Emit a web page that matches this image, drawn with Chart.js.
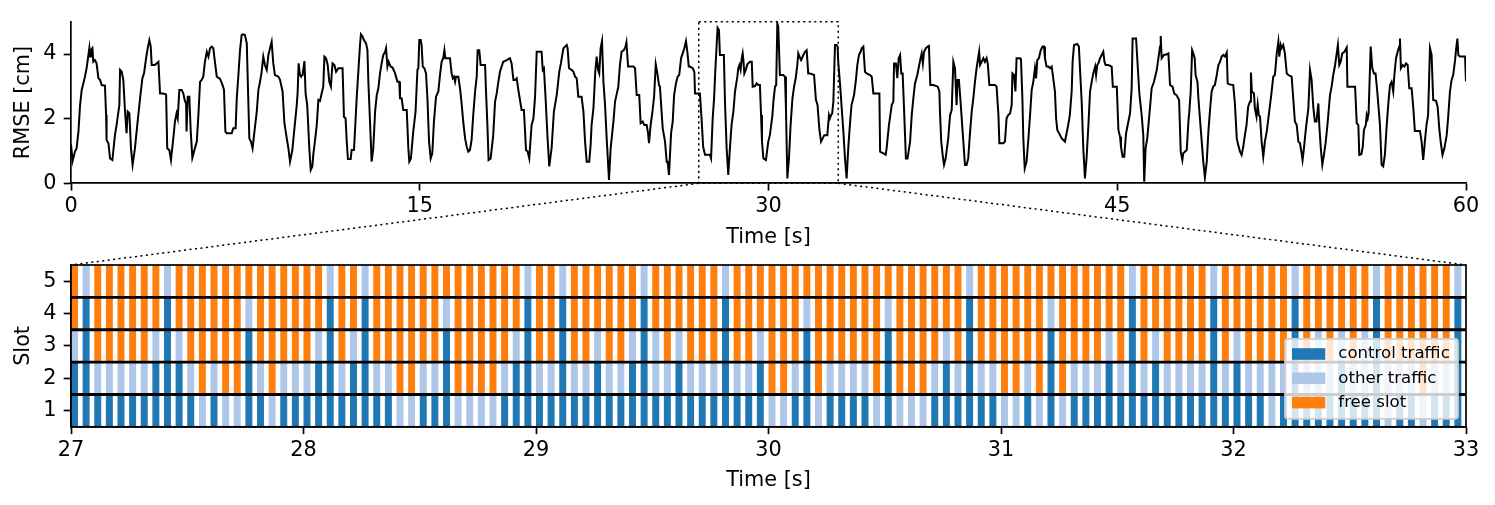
<!DOCTYPE html>
<html>
<head>
<meta charset="utf-8">
<script src="https://cdn.jsdelivr.net/npm/chart.js@4.4.0/dist/chart.umd.min.js"></script>
<style>
  html, body { margin: 0; padding: 0; background: #fff; }
  #page { position: relative; width: 1495px; height: 505px; overflow: hidden; }
  .panel { position: absolute; left: 0; width: 1495px; }
  #topPanel { top: 0; height: 252px; }
  #bottomPanel { top: 252px; height: 253px; }
  #links { position: absolute; left: 0; top: 0; pointer-events: none; }
</style>
</head>
<body>
<div id="page">
  <div class="panel" id="topPanel"><canvas id="rmseChart"></canvas></div>
  <div class="panel" id="bottomPanel"><canvas id="slotChart"></canvas></div>
  <svg id="links" width="1495" height="505"></svg>
</div>
<script>
// RMSE trace: [time in s, RMSE in cm]
const rmseTrace = [
  [0,1.2],[0.07,0.69],[0.17,0.98],[0.24,1.08],[0.32,1.60],[0.39,2.42],[0.46,2.89],[0.53,3.09],
  [0.60,3.30],[0.67,3.56],[0.75,3.97],[0.79,4.18],[0.82,3.92],[0.86,4.12],[0.92,4.18],[0.96,3.76],
  [1.03,3.81],[1.10,3.71],[1.18,3.25],[1.25,3.20],[1.32,3.04],[1.46,3.02],[1.51,2.11],[1.53,1.34],
  [1.61,1.24],[1.68,0.77],[1.78,0.72],[1.89,1.49],[1.96,1.80],[2.04,2.22],[2.08,2.42],[2.11,3.51],
  [2.18,3.45],[2.25,3.20],[2.32,2.27],[2.39,1.55],[2.44,2.22],[2.51,2.16],[2.58,1.08],[2.65,0.57],
  [2.75,1.08],[2.85,1.80],[2.97,2.63],[3.07,3.25],[3.14,3.40],[3.23,3.87],[3.30,4.18],[3.37,4.43],
  [3.43,4.23],[3.47,3.66],[3.61,3.66],[3.68,3.71],[3.76,3.76],[3.83,2.78],[3.97,2.78],[4.09,2.75],
  [4.14,1.08],[4.23,1.03],[4.30,0.72],[4.40,1.39],[4.47,1.91],[4.54,2.16],[4.59,2.01],[4.66,2.89],
  [4.76,2.89],[4.83,2.78],[4.90,2.55],[4.95,2.47],[4.97,1.60],[5.02,2.68],[5.09,2.68],[5.15,1.60],
  [5.22,0.79],[5.29,0.98],[5.41,1.29],[5.48,2.11],[5.55,3.14],[5.62,3.20],[5.69,3.30],[5.76,3.76],
  [5.84,4.07],[5.91,3.92],[5.98,4.18],[6.05,4.23],[6.12,4.18],[6.19,3.76],[6.27,3.30],[6.41,3.23],
  [6.52,3.04],[6.58,2.89],[6.64,1.60],[6.70,1.55],[6.91,1.55],[6.98,1.70],[7.08,1.70],[7.13,2.63],
  [7.20,3.35],[7.27,4.12],[7.34,4.59],[7.41,4.61],[7.48,4.59],[7.56,4.33],[7.67,1.39],[7.74,1.29],
  [7.81,1.08],[7.89,1.60],[7.99,2.22],[8.06,2.89],[8.13,3.14],[8.20,3.45],[8.27,3.92],[8.34,3.66],
  [8.42,3.51],[8.49,3.97],[8.56,4.18],[8.63,4.38],[8.70,3.71],[8.77,3.35],[8.92,3.30],[8.99,3.20],
  [9.10,2.84],[9.18,1.86],[9.28,1.39],[9.35,1.08],[9.42,0.67],[9.52,1.03],[9.61,1.70],[9.71,2.42],
  [9.75,2.84],[9.79,3.71],[9.85,3.35],[9.89,3.32],[9.96,3.35],[10.04,3.78],[10.09,2.78],[10.16,2.42],
  [10.25,1.08],[10.31,0.41],[10.38,0.52],[10.42,0.88],[10.49,1.29],[10.57,1.80],[10.64,2.58],[10.71,2.55],
  [10.78,2.78],[10.85,2.99],[10.90,3.92],[10.97,3.87],[11.04,3.66],[11.11,3.14],[11.18,2.99],[11.21,3.35],
  [11.25,3.71],[11.33,3.66],[11.40,3.45],[11.50,3.56],[11.68,3.56],[11.74,2.06],[11.81,2.01],[11.86,1.29],
  [11.91,0.75],[12.03,0.75],[12.07,1.03],[12.17,1.03],[12.21,1.55],[12.29,2.68],[12.36,3.47],[12.43,4.28],
  [12.47,4.61],[12.54,4.54],[12.60,4.43],[12.69,4.33],[12.75,4.12],[12.79,3.14],[12.86,1.91],[12.93,0.67],
  [13.00,1.08],[13.08,2.22],[13.15,2.73],[13.22,2.94],[13.29,3.40],[13.36,3.71],[13.43,3.97],[13.51,4.07],
  [13.55,4.18],[13.61,3.61],[13.66,3.76],[13.75,3.61],[13.83,3.58],[13.94,3.40],[14.04,3.14],[14.12,3.14],
  [14.15,2.63],[14.22,2.63],[14.29,2.27],[14.44,2.27],[14.51,1.08],[14.55,0.67],[14.62,0.77],[14.72,1.60],
  [14.82,2.22],[14.90,3.51],[14.94,3.56],[14.98,4.43],[15.04,4.43],[15.08,4.28],[15.13,3.61],[15.20,3.56],
  [15.27,3.40],[15.33,2.63],[15.40,1.29],[15.47,0.77],[15.54,0.93],[15.61,1.91],[15.70,2.68],[15.80,2.84],
  [15.87,3.35],[15.94,3.76],[16.01,3.87],[16.06,4.12],[16.10,3.87],[16.30,3.87],[16.37,3.40],[16.42,3.25],
  [16.47,3.30],[16.52,3.14],[16.56,3.30],[16.66,3.30],[16.74,2.89],[16.80,2.47],[16.87,1.91],[16.95,1.39],
  [17.02,1.13],[17.09,0.98],[17.16,1.03],[17.23,1.34],[17.30,2.11],[17.38,2.84],[17.45,3.30],[17.49,4.12],
  [17.56,4.12],[17.62,3.66],[17.81,3.66],[17.85,2.84],[17.91,1.80],[17.96,0.72],[18.05,0.77],[18.16,1.49],
  [18.24,2.53],[18.31,2.78],[18.38,3.14],[18.45,3.45],[18.59,3.76],[18.74,3.81],[18.88,3.87],[18.95,3.71],
  [19.03,3.20],[19.10,3.20],[19.17,3.25],[19.24,2.89],[19.38,2.27],[19.48,2.27],[19.57,1.03],[19.64,0.98],
  [19.71,0.77],[19.81,1.80],[19.89,2.01],[19.96,2.68],[20.03,4.07],[20.24,4.07],[20.29,3.51],[20.34,3.56],
  [20.42,2.53],[20.49,1.49],[20.57,0.52],[20.67,1.08],[20.77,2.22],[20.89,2.73],[21.00,3.45],[21.07,3.71],
  [21.18,4.18],[21.25,4.23],[21.32,4.28],[21.36,4.18],[21.42,3.56],[21.53,3.51],[21.61,3.45],[21.68,3.30],
  [21.75,3.25],[21.82,2.68],[21.96,2.68],[22.04,2.22],[22.11,1.29],[22.18,0.67],[22.29,0.67],[22.35,1.19],
  [22.39,1.80],[22.47,2.32],[22.55,3.45],[22.61,3.92],[22.67,3.51],[22.72,3.40],[22.78,4.18],[22.84,4.40],
  [22.90,3.14],[22.97,2.42],[23.04,1.39],[23.14,0.10],[23.21,1.08],[23.33,1.91],[23.40,2.53],[23.54,2.99],
  [23.61,3.66],[23.68,4.07],[23.78,4.12],[23.85,4.23],[23.89,4.36],[23.96,3.61],[24.04,3.61],[24.19,3.61],
  [24.26,3.56],[24.33,2.73],[24.44,2.73],[24.50,1.86],[24.59,1.91],[24.66,1.80],[24.76,1.80],[24.82,1.55],
  [24.86,1.24],[24.93,1.80],[25.00,2.16],[25.08,2.68],[25.15,3.68],[25.22,3.40],[25.29,3.04],[25.33,2.99],
  [25.45,1.70],[25.55,1.29],[25.62,0.67],[25.66,0.67],[25.72,0.26],[25.81,1.55],[25.88,1.91],[25.94,2.73],
  [26.02,3.09],[26.09,3.30],[26.16,3.35],[26.24,3.87],[26.31,4.02],[26.38,4.18],[26.45,4.40],[26.51,4.07],
  [26.57,3.61],[26.62,3.61],[26.74,3.56],[26.81,3.45],[26.84,2.78],[27.05,2.78],[27.12,2.01],[27.19,1.13],
  [27.27,0.88],[27.48,0.88],[27.53,0.77],[27.60,2.01],[27.66,2.63],[27.71,3.45],[27.77,4.28],[27.81,4.81],
  [27.87,4.74],[27.91,3.97],[28.08,3.97],[28.13,2.47],[28.20,1.08],[28.27,0.26],[28.34,1.08],[28.41,1.80],
  [28.49,2.22],[28.56,2.84],[28.66,3.30],[28.70,3.56],[28.75,3.66],[28.80,3.51],[28.85,3.87],[28.89,4.02],
  [28.92,3.81],[28.96,3.40],[29.02,3.51],[29.09,3.68],[29.20,3.76],[29.28,3.76],[29.32,2.99],[29.42,3.01],
  [29.49,3.09],[29.56,3.04],[29.63,3.04],[29.68,2.11],[29.72,1.29],[29.78,0.77],[29.89,0.72],[29.99,1.29],
  [30.06,1.49],[30.17,2.11],[30.21,2.53],[30.28,2.99],[30.33,3.04],[30.38,4.95],[30.42,4.85],[30.49,3.35],
  [30.63,3.35],[30.71,3.30],[30.75,2.32],[30.81,0.15],[30.88,0.77],[30.95,1.80],[31.03,2.63],[31.10,2.99],
  [31.17,3.25],[31.24,3.66],[31.28,4.02],[31.36,3.87],[31.40,3.81],[31.50,3.97],[31.57,4.07],[31.64,4.12],
  [31.71,3.40],[31.78,3.40],[31.96,3.35],[32.04,2.58],[32.11,2.42],[32.19,1.65],[32.26,1.29],[32.33,1.39],
  [32.40,1.49],[32.53,1.49],[32.60,2.11],[32.64,2.01],[32.69,2.11],[32.74,2.16],[32.79,2.53],[32.86,4.28],
  [32.93,4.28],[32.97,4.23],[33.00,3.76],[33.08,3.04],[33.15,2.32],[33.22,1.60],[33.29,0.77],[33.36,0.15],
  [33.43,1.08],[33.50,1.80],[33.57,2.42],[33.68,2.73],[33.76,3.20],[33.82,3.66],[33.89,3.97],[33.96,4.07],
  [34.01,4.18],[34.08,4.23],[34.15,3.45],[34.22,3.40],[34.37,3.35],[34.44,3.30],[34.51,2.78],[34.77,2.78],
  [34.80,0.98],[34.94,0.93],[35.04,0.88],[35.08,1.08],[35.18,1.80],[35.30,2.42],[35.37,2.53],[35.40,3.71],
  [35.48,3.71],[35.54,3.25],[35.60,3.87],[35.66,3.97],[35.71,3.40],[35.77,3.40],[35.84,2.11],[35.91,0.77],
  [35.98,0.77],[36.09,1.29],[36.16,2.11],[36.23,2.63],[36.30,3.09],[36.40,3.35],[36.47,3.61],[36.54,3.87],
  [36.59,4.02],[36.64,3.71],[36.69,4.07],[36.77,4.18],[36.85,4.23],[36.90,4.25],[36.96,3.04],[37.09,3.04],
  [37.28,2.99],[37.35,2.84],[37.38,2.11],[37.43,1.29],[37.49,0.88],[37.55,0.57],[37.62,0.77],[37.73,1.39],
  [37.81,2.11],[37.88,2.27],[37.95,3.76],[38.02,3.56],[38.09,2.42],[38.13,3.20],[38.19,3.20],[38.26,2.53],
  [38.35,1.60],[38.45,0.57],[38.52,0.57],[38.59,0.77],[38.66,1.49],[38.74,2.22],[38.81,2.63],[38.88,3.14],
  [38.95,3.56],[39.06,4.07],[39.10,3.66],[39.17,3.76],[39.24,3.87],[39.31,3.76],[39.38,3.87],[39.43,3.71],
  [39.50,3.04],[39.74,3.04],[39.81,2.99],[39.89,2.11],[39.93,1.24],[40.10,1.24],[40.17,1.29],[40.24,2.01],
  [40.31,2.11],[40.39,2.16],[40.46,2.42],[40.49,3.40],[40.56,3.35],[40.62,2.84],[40.67,3.87],[40.82,3.87],
  [40.86,3.81],[40.92,2.63],[40.96,1.39],[41.02,0.46],[41.10,0.67],[41.18,1.39],[41.25,2.11],[41.32,2.89],
  [41.39,3.14],[41.46,3.56],[41.51,3.25],[41.56,3.81],[41.63,3.87],[41.71,4.12],[41.79,4.23],[41.85,4.23],
  [41.89,3.87],[41.96,3.61],[42.04,3.61],[42.11,3.56],[42.18,3.61],[42.22,3.40],[42.32,2.84],[42.37,2.01],
  [42.42,1.65],[42.54,1.49],[42.61,1.39],[42.68,1.34],[42.75,1.29],[42.82,1.55],[42.89,1.80],[42.96,2.11],
  [43.04,2.84],[43.08,3.76],[43.14,4.28],[43.28,4.31],[43.35,4.23],[43.40,3.51],[43.47,2.53],[43.54,1.08],
  [43.61,0.15],[43.68,0.77],[43.76,1.80],[43.83,2.84],[43.90,3.14],[43.97,3.40],[44.05,3.61],[44.09,3.35],
  [44.14,3.66],[44.19,3.71],[44.26,3.87],[44.33,3.97],[44.40,4.07],[44.45,3.76],[44.50,3.66],[44.62,3.66],
  [44.76,3.61],[44.81,2.99],[44.98,2.99],[45.05,1.65],[45.12,1.44],[45.16,1.13],[45.23,0.82],[45.30,0.82],
  [45.38,1.55],[45.48,1.91],[45.55,2.16],[45.62,2.94],[45.66,4.48],[45.81,4.48],[45.86,3.87],[45.95,2.78],
  [46.05,2.11],[46.12,1.49],[46.16,0.05],[46.22,1.08],[46.29,1.39],[46.38,2.11],[46.48,2.94],[46.58,3.14],
  [46.70,3.51],[46.77,3.87],[46.84,4.23],[46.87,4.56],[46.91,3.87],[47.01,3.97],[47.13,3.99],[47.20,4.02],
  [47.27,3.04],[47.38,2.99],[47.45,2.78],[47.55,2.73],[47.66,2.58],[47.73,0.98],[47.80,0.72],[47.84,0.93],
  [47.99,1.03],[48.06,1.91],[48.10,2.22],[48.16,2.84],[48.22,4.12],[48.27,4.02],[48.33,3.87],[48.37,3.35],
  [48.45,3.14],[48.49,2.63],[48.60,1.60],[48.70,0.67],[48.77,0.18],[48.85,0.67],[48.92,1.60],[48.99,2.27],
  [49.06,2.84],[49.13,2.99],[49.20,3.04],[49.28,3.35],[49.35,3.66],[49.42,3.76],[49.49,3.92],[49.56,3.97],
  [49.63,3.92],[49.71,4.05],[49.75,3.09],[49.82,3.06],[49.99,3.04],[50.06,2.47],[50.14,1.39],[50.20,1.19],
  [50.28,0.98],[50.35,0.88],[50.42,1.13],[50.49,1.49],[50.56,1.80],[50.63,2.37],[50.71,2.53],[50.75,3.43],
  [50.79,2.84],[50.88,2.78],[50.92,2.32],[50.99,2.06],[51.04,2.44],[51.09,2.11],[51.14,2.06],[51.21,1.29],
  [51.28,0.82],[51.35,1.29],[51.43,1.60],[51.50,2.01],[51.57,2.42],[51.64,2.84],[51.71,3.30],[51.78,3.35],
  [51.86,4.02],[51.93,4.38],[51.97,3.92],[52.03,4.28],[52.07,4.18],[52.14,4.28],[52.21,4.02],[52.29,3.40],
  [52.36,3.35],[52.50,3.30],[52.57,2.63],[52.64,1.91],[52.72,1.80],[52.79,1.29],[52.86,1.24],[52.93,0.93],
  [52.97,0.72],[53.03,1.08],[53.10,1.60],[53.15,1.91],[53.22,2.32],[53.29,3.51],[53.36,3.20],[53.43,2.37],
  [53.50,1.91],[53.57,1.91],[53.65,2.47],[53.69,1.80],[53.75,1.13],[53.82,0.57],[53.89,0.88],[53.96,1.24],
  [54.04,1.80],[54.15,2.73],[54.22,2.99],[54.29,3.35],[54.37,3.66],[54.44,4.02],[54.49,4.28],[54.55,3.66],
  [54.61,3.76],[54.68,4.02],[54.77,4.07],[54.87,4.20],[54.90,2.99],[55.23,2.99],[55.30,1.86],[55.37,1.80],
  [55.41,0.88],[55.50,0.90],[55.56,1.13],[55.61,1.65],[55.69,1.80],[55.73,2.11],[55.77,2.01],[55.81,2.16],
  [55.90,4.23],[55.97,3.56],[56.04,3.40],[56.11,3.40],[56.19,2.78],[56.30,1.80],[56.37,0.57],[56.44,0.52],
  [56.51,0.88],[56.59,1.80],[56.66,2.47],[56.73,3.04],[56.80,3.14],[56.87,2.84],[56.92,3.35],[56.99,3.87],
  [57.06,4.07],[57.13,4.23],[57.16,4.48],[57.20,3.56],[57.28,3.66],[57.35,3.61],[57.42,3.71],[57.49,3.66],
  [57.56,2.94],[57.66,2.94],[57.73,2.37],[57.80,1.62],[58.02,1.62],[58.09,1.29],[58.16,0.72],[58.23,1.29],
  [58.30,1.80],[58.37,2.11],[58.45,4.18],[58.52,3.97],[58.59,2.58],[58.71,2.55],[58.78,2.37],[58.85,1.70],
  [58.91,1.29],[58.99,0.88],[59.07,1.08],[59.17,1.49],[59.24,2.11],[59.31,2.84],[59.38,3.20],[59.45,3.35],
  [59.53,3.81],[59.57,4.12],[59.63,4.48],[59.67,3.97],[59.74,3.92],[59.86,3.92],[59.96,3.92],[60.00,3.15]
];
const topTimeTicks = [0, 15, 30, 45, 60];
const rmseTicks = [0, 2, 4];
const rmseMax = 5;

// zoomed window shown in the lower panel
const zoomStart = 27;
const zoomEnd = 33;
const frameLength = 0.05;
const zoomTimeTicks = [27, 28, 29, 30, 31, 32, 33];
const slotTicks = [1, 2, 3, 4, 5];

// slot usage per 50 ms frame (C = control traffic, O = other traffic, F = free slot)
const slot1 = 'CCCCCCCCCC' + 'COCOOCCOCC' + 'CCCCCCCCOO' + 'CCCOOOOCCC' + 'CCCCCCCCCC' + 'CCCCCCCCCC' +
              'OOCCOCCCCO' + 'COOOCCCCCC' + 'OOCOCOCCCC' + 'CCCCCCCCCC' + 'CCCOCCCCCC' + 'CCCOCCOCCC';
const slot2 = 'CCOOOOOCCC' + 'OFOFFCOFOO' + 'OCCOCCOOFF' + 'OOCFFFFOCC' + 'OOCOOCOOCC' + 'OOCOOOCOOC' +
              'FFOCFOOOOF' + 'CFFFOCOCOO' + 'FFOFCFOOOC' + 'OCOCOOOOCO' + 'COOOOCOOOC' + 'OOCOOOFOOC';
const slot3 = 'OCFFFFFOCO' + 'FFFFFCFFFF' + 'FOCFOCFFFF' + 'FFCFFFFFOC' + 'FFCFFOFFOC' + 'OFOFFFCFFO' +
              'FFFCFFFFFF' + 'CFFFFOFCFF' + 'FFFFCFFFFO' + 'FCFOFFFFCF' + 'OFFFFCFOFO' + 'FOCFFFFFFC';
const slot4 = 'FCFFFFFFCF' + 'FFFFFOFFFF' + 'FFCFFCFFFF' + 'FFOFFFFFFC' + 'FFCFFFFFFC' + 'FFFFFFCFFF' +
              'FFFOFFFFFF' + 'OFFFFFFCFF' + 'FFFFOFFFFF' + 'FCFFFFFFCF' + 'FFFFFCFFFF' + 'FFCFFFFFFC';
const slot5 = 'FOFFFFFFOF' + 'FFFFFFFFFF' + 'FFOFFOFFFF' + 'FFFFFFFFFO' + 'FFOFFFFFFO' + 'FFFFFFOFFF' +
              'FFFFFFFFFF' + 'FFFFFFFOFF' + 'FFFFFFFFFF' + 'FOFFFFFFOF' + 'FFFFFOFFFF' + 'FFOFFFFFFO';
const slotRows = [slot1, slot2, slot3, slot4, slot5];

const legendKeys = ['C', 'O', 'F'];
const stateNames = { C: 'control traffic', O: 'other traffic', F: 'free slot' };
const stateColors = { C: '#1f77b4', O: '#aec7e8', F: '#ff7f0e' };

Chart.defaults.font.family = "'DejaVu Sans', sans-serif";
Chart.defaults.font.size = 20.8;
Chart.defaults.color = '#000';

const axisFont = { size: 20.8 };

function fixedTicks(values) {
  return scale => { scale.ticks = values.map(v => ({ value: v })); };
}

// dotted box marking the zoom window on the RMSE trace
const zoomBox = {
  id: 'zoomBox',
  afterDatasetsDraw(chart) {
    const { ctx, scales: { x, y } } = chart;
    const x0 = x.getPixelForValue(zoomStart), x1 = x.getPixelForValue(zoomEnd);
    const y0 = y.getPixelForValue(rmseMax), y1 = y.getPixelForValue(0);
    ctx.save();
    ctx.strokeStyle = '#000';
    ctx.lineWidth = 1.5;
    ctx.setLineDash([2.1, 3.4]);
    ctx.strokeRect(x0, y0, x1 - x0, y1 - y0);
    ctx.restore();
  }
};

const topChart = new Chart(document.getElementById('rmseChart'), {
  type: 'line',
  data: {
    datasets: [{
      data: rmseTrace.map(([t, v]) => ({ x: t, y: v })),
      borderColor: '#000',
      borderWidth: 2,
      pointRadius: 0,
      tension: 0,
      fill: false
    }]
  },
  options: {
    responsive: true,
    maintainAspectRatio: false,
    animation: false,
    layout: { padding: { top: 21.7, right: 29, left: 0, bottom: 0 } },
    plugins: { legend: { display: false }, tooltip: { enabled: false } },
    scales: {
      x: {
        type: 'linear', min: 0, max: 60, offset: false,
        afterBuildTicks: fixedTicks(topTimeTicks),
        afterFit: s => { s.height = 68.7; s.paddingLeft = 0; s.paddingRight = 0; },
        grid: { drawOnChartArea: false, drawTicks: true, tickLength: 7.3, tickWidth: 1.7, tickColor: '#000' },
        border: { display: true, color: '#000', width: 1.7 },
        ticks: { padding: 4, color: '#000', font: axisFont, maxRotation: 0 },
        title: { display: true, text: 'Time [s]', color: '#000', font: axisFont, padding: { top: 0, bottom: 1.7 } }
      },
      y: {
        type: 'linear', min: 0, max: rmseMax,
        afterBuildTicks: fixedTicks(rmseTicks),
        afterFit: s => { s.width = 71; s.paddingTop = 0; s.paddingBottom = 0; },
        grid: { drawOnChartArea: false, drawTicks: true, tickLength: 7.3, tickWidth: 1.7, tickColor: '#000' },
        border: { display: true, color: '#000', width: 1.7 },
        ticks: { padding: 7.3, color: '#000', font: axisFont },
        title: { display: true, text: 'RMSE [cm]', color: '#000', font: axisFont, padding: { top: 11.5, bottom: 0 } }
      }
    }
  },
  plugins: [zoomBox]
});

// separators between slots and the frame round the lower panel
const slotGrid = {
  id: 'slotGrid',
  afterDatasetsDraw(chart) {
    const { ctx, chartArea: a, scales: { y } } = chart;
    ctx.save();
    ctx.strokeStyle = '#000';
    ctx.lineWidth = 2.9;
    for (let k = 0; k < slotTicks.length - 1; k++) {
      const py = y.getPixelForValue(slotTicks[k] + 0.5);
      ctx.beginPath();
      ctx.moveTo(a.left, py);
      ctx.lineTo(a.right, py);
      ctx.stroke();
    }
    ctx.lineWidth = 1.7;
    ctx.strokeRect(a.left, a.top, a.right - a.left, a.bottom - a.top);
    ctx.restore();
  }
};

const slotLegend = {
  id: 'slotLegend',
  afterDraw(chart) {
    const { ctx, chartArea: a } = chart;
    const w = 173, h = 80, gap = 8;
    const x0 = a.right - gap - w, y0 = a.bottom - gap - h;
    ctx.save();
    ctx.beginPath();
    if (ctx.roundRect) ctx.roundRect(x0, y0, w, h, 3); else ctx.rect(x0, y0, w, h);
    ctx.fillStyle = 'rgba(255,255,255,0.8)';
    ctx.fill();
    ctx.strokeStyle = '#cccccc';
    ctx.lineWidth = 1.7;
    ctx.stroke();
    ctx.font = "16.6px 'DejaVu Sans', sans-serif";
    ctx.textBaseline = 'middle';
    ctx.textAlign = 'left';
    legendKeys.forEach((key, i) => {
      const cy = y0 + 15.2 + i * 24.3;
      ctx.fillStyle = stateColors[key];
      ctx.fillRect(x0 + 7, cy - 5.8, 33.3, 11.6);
      ctx.fillStyle = '#000';
      ctx.fillText(stateNames[key], x0 + 53.3, cy);
    });
    ctx.restore();
  }
};

// bars start at the frame start and fill 60 % of the frame
const frameStarts = Array.from({ length: slot1.length }, (_, i) => zoomStart + i * frameLength);
const slotDatasets = slotRows.map((row, k) => ({
  label: 'slot ' + slotTicks[k],
  data: frameStarts.map(t => ({ x: t + frameLength * 0.3, y: [slotTicks[k] - 0.5, slotTicks[k] + 0.5] })),
  backgroundColor: row.split('').map(s => stateColors[s]),
  borderWidth: 0,
  grouped: false,
  barPercentage: 0.6,
  categoryPercentage: 1.0
}));

const slotChart = new Chart(document.getElementById('slotChart'), {
  type: 'bar',
  data: { datasets: slotDatasets },
  options: {
    responsive: true,
    maintainAspectRatio: false,
    animation: false,
    layout: { padding: { top: 13, right: 29, left: 0, bottom: 0 } },
    plugins: { legend: { display: false }, tooltip: { enabled: false } },
    scales: {
      x: {
        type: 'linear', min: zoomStart, max: zoomEnd, offset: false,
        afterBuildTicks: fixedTicks(zoomTimeTicks),
        afterFit: s => { s.height = 78.2; s.paddingLeft = 0; s.paddingRight = 0; },
        grid: { offset: false, drawOnChartArea: false, drawTicks: true, tickLength: 7.3, tickWidth: 1.7, tickColor: '#000' },
        border: { display: true, color: '#000', width: 1.7 },
        ticks: { padding: 4, color: '#000', font: axisFont, maxRotation: 0 },
        title: { display: true, text: 'Time [s]', color: '#000', font: axisFont, padding: { top: 0, bottom: 12 } }
      },
      y: {
        type: 'linear', min: 0.5, max: 5.5, beginAtZero: false,
        afterBuildTicks: fixedTicks(slotTicks),
        afterFit: s => { s.width = 71; s.paddingTop = 0; s.paddingBottom = 0; },
        grid: { drawOnChartArea: false, drawTicks: true, tickLength: 7.3, tickWidth: 1.7, tickColor: '#000' },
        border: { display: true, color: '#000', width: 1.7 },
        ticks: { padding: 7.3, color: '#000', font: axisFont },
        title: { display: true, text: 'Slot', color: '#000', font: axisFont, padding: { top: 11.5, bottom: 0 } }
      }
    }
  },
  plugins: [slotGrid, slotLegend]
});

// dotted connectors from the zoom box to the lower panel
function drawLinks() {
  const svg = document.getElementById('links');
  const page = document.getElementById('page').getBoundingClientRect();
  const topBox = topChart.canvas.getBoundingClientRect();
  const botBox = slotChart.canvas.getBoundingClientRect();
  const yTop = topChart.scales.y.getPixelForValue(0) + topBox.top - page.top;
  const yBot = slotChart.chartArea.top + botBox.top - page.top;
  [zoomStart, zoomEnd].forEach(t => {
    const line = document.createElementNS('http://www.w3.org/2000/svg', 'line');
    line.setAttribute('x1', topChart.scales.x.getPixelForValue(t) + topBox.left - page.left);
    line.setAttribute('y1', yTop);
    line.setAttribute('x2', slotChart.scales.x.getPixelForValue(t) + botBox.left - page.left);
    line.setAttribute('y2', yBot);
    line.setAttribute('stroke', '#000');
    line.setAttribute('stroke-width', '1.5');
    line.setAttribute('stroke-dasharray', '2.1 3.4');
    svg.appendChild(line);
  });
}
drawLinks();
</script>
</body>
</html>
